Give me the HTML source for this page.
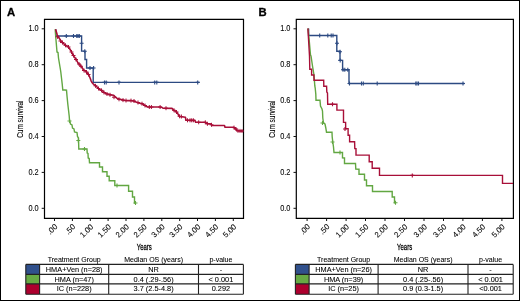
<!DOCTYPE html><html><head><meta charset="utf-8"><style>html,body{margin:0;padding:0;background:#fff;width:520px;height:301px;overflow:hidden}svg{display:block}text{filter:grayscale(1)}text{font-family:"Liberation Sans", sans-serif;fill:#000;stroke:#000;stroke-width:0.08px}</style></head><body>
<svg width="520" height="301" viewBox="0 0 520 301">
<rect x="0" y="0" width="520" height="301" fill="#fff"/>
<rect x="0.5" y="0.5" width="519" height="300" fill="none" stroke="#000" stroke-width="1"/>
<text x="6.9" y="16.0" font-size="11.3" font-weight="bold" style="stroke-width:0.3px">A</text>
<text x="258.5" y="16.2" font-size="11.3" font-weight="bold" style="stroke-width:0.3px">B</text>
<path d="M44.5,19.4H243.5V218.3H44.5Z" fill="none" stroke="#000" stroke-width="1.2"/>
<path d="M41.7,208.3H44.5" stroke="#111" stroke-width="1"/>
<text transform="translate(38.7,210.9) scale(0.9,1)" font-size="8.2" text-anchor="end">0.0</text>
<path d="M41.7,172.4H44.5" stroke="#111" stroke-width="1"/>
<text transform="translate(38.7,175.0) scale(0.9,1)" font-size="8.2" text-anchor="end">0.2</text>
<path d="M41.7,136.5H44.5" stroke="#111" stroke-width="1"/>
<text transform="translate(38.7,139.1) scale(0.9,1)" font-size="8.2" text-anchor="end">0.4</text>
<path d="M41.7,100.6H44.5" stroke="#111" stroke-width="1"/>
<text transform="translate(38.7,103.2) scale(0.9,1)" font-size="8.2" text-anchor="end">0.6</text>
<path d="M41.7,64.7H44.5" stroke="#111" stroke-width="1"/>
<text transform="translate(38.7,67.3) scale(0.9,1)" font-size="8.2" text-anchor="end">0.8</text>
<path d="M41.7,28.8H44.5" stroke="#111" stroke-width="1"/>
<text transform="translate(38.7,31.4) scale(0.9,1)" font-size="8.2" text-anchor="end">1.0</text>
<path d="M54.5,218.5V221" stroke="#111" stroke-width="1"/>
<text transform="translate(58.0,227.3) rotate(-45)" font-size="7.8" text-anchor="end">.00</text>
<path d="M72.4,218.5V221" stroke="#111" stroke-width="1"/>
<text transform="translate(75.9,227.3) rotate(-45)" font-size="7.8" text-anchor="end">.50</text>
<path d="M90.3,218.5V221" stroke="#111" stroke-width="1"/>
<text transform="translate(93.8,227.3) rotate(-45)" font-size="7.8" text-anchor="end">1.00</text>
<path d="M108.1,218.5V221" stroke="#111" stroke-width="1"/>
<text transform="translate(111.6,227.3) rotate(-45)" font-size="7.8" text-anchor="end">1.50</text>
<path d="M126.0,218.5V221" stroke="#111" stroke-width="1"/>
<text transform="translate(129.5,227.3) rotate(-45)" font-size="7.8" text-anchor="end">2.00</text>
<path d="M143.9,218.5V221" stroke="#111" stroke-width="1"/>
<text transform="translate(147.4,227.3) rotate(-45)" font-size="7.8" text-anchor="end">2.50</text>
<path d="M161.8,218.5V221" stroke="#111" stroke-width="1"/>
<text transform="translate(165.3,227.3) rotate(-45)" font-size="7.8" text-anchor="end">3.00</text>
<path d="M179.7,218.5V221" stroke="#111" stroke-width="1"/>
<text transform="translate(183.2,227.3) rotate(-45)" font-size="7.8" text-anchor="end">3.50</text>
<path d="M197.5,218.5V221" stroke="#111" stroke-width="1"/>
<text transform="translate(201.0,227.3) rotate(-45)" font-size="7.8" text-anchor="end">4.00</text>
<path d="M215.4,218.5V221" stroke="#111" stroke-width="1"/>
<text transform="translate(218.9,227.3) rotate(-45)" font-size="7.8" text-anchor="end">4.50</text>
<path d="M233.3,218.5V221" stroke="#111" stroke-width="1"/>
<text transform="translate(236.8,227.3) rotate(-45)" font-size="7.8" text-anchor="end">5.00</text>
<text transform="translate(144.3,249.9) scale(0.635,1)" font-size="9.4" text-anchor="middle" style="stroke-width:0.3px">Years</text>
<text transform="translate(23.2,119.2) rotate(-90) scale(0.66,1)" font-size="9.8" text-anchor="middle" style="stroke-width:0.12px">Cum survival</text>
<path d="M296.3,19.4H513.4V218.3H296.3Z" fill="none" stroke="#000" stroke-width="1.2"/>
<path d="M293.5,208.3H296.3" stroke="#111" stroke-width="1"/>
<text transform="translate(290.4,210.9) scale(0.9,1)" font-size="8.2" text-anchor="end">0.0</text>
<path d="M293.5,172.4H296.3" stroke="#111" stroke-width="1"/>
<text transform="translate(290.4,175.0) scale(0.9,1)" font-size="8.2" text-anchor="end">0.2</text>
<path d="M293.5,136.5H296.3" stroke="#111" stroke-width="1"/>
<text transform="translate(290.4,139.1) scale(0.9,1)" font-size="8.2" text-anchor="end">0.4</text>
<path d="M293.5,100.6H296.3" stroke="#111" stroke-width="1"/>
<text transform="translate(290.4,103.2) scale(0.9,1)" font-size="8.2" text-anchor="end">0.6</text>
<path d="M293.5,64.7H296.3" stroke="#111" stroke-width="1"/>
<text transform="translate(290.4,67.3) scale(0.9,1)" font-size="8.2" text-anchor="end">0.8</text>
<path d="M293.5,28.8H296.3" stroke="#111" stroke-width="1"/>
<text transform="translate(290.4,31.4) scale(0.9,1)" font-size="8.2" text-anchor="end">1.0</text>
<path d="M307.1,218.5V221" stroke="#111" stroke-width="1"/>
<text transform="translate(310.6,227.3) rotate(-45)" font-size="7.8" text-anchor="end">.00</text>
<path d="M326.6,218.5V221" stroke="#111" stroke-width="1"/>
<text transform="translate(330.1,227.3) rotate(-45)" font-size="7.8" text-anchor="end">.50</text>
<path d="M346.1,218.5V221" stroke="#111" stroke-width="1"/>
<text transform="translate(349.6,227.3) rotate(-45)" font-size="7.8" text-anchor="end">1.00</text>
<path d="M365.5,218.5V221" stroke="#111" stroke-width="1"/>
<text transform="translate(369.0,227.3) rotate(-45)" font-size="7.8" text-anchor="end">1.50</text>
<path d="M385.0,218.5V221" stroke="#111" stroke-width="1"/>
<text transform="translate(388.5,227.3) rotate(-45)" font-size="7.8" text-anchor="end">2.00</text>
<path d="M404.5,218.5V221" stroke="#111" stroke-width="1"/>
<text transform="translate(408.0,227.3) rotate(-45)" font-size="7.8" text-anchor="end">2.50</text>
<path d="M424.0,218.5V221" stroke="#111" stroke-width="1"/>
<text transform="translate(427.5,227.3) rotate(-45)" font-size="7.8" text-anchor="end">3.00</text>
<path d="M443.5,218.5V221" stroke="#111" stroke-width="1"/>
<text transform="translate(447.0,227.3) rotate(-45)" font-size="7.8" text-anchor="end">3.50</text>
<path d="M462.9,218.5V221" stroke="#111" stroke-width="1"/>
<text transform="translate(466.4,227.3) rotate(-45)" font-size="7.8" text-anchor="end">4.00</text>
<path d="M482.4,218.5V221" stroke="#111" stroke-width="1"/>
<text transform="translate(485.9,227.3) rotate(-45)" font-size="7.8" text-anchor="end">4.50</text>
<path d="M501.9,218.5V221" stroke="#111" stroke-width="1"/>
<text transform="translate(505.4,227.3) rotate(-45)" font-size="7.8" text-anchor="end">5.00</text>
<text transform="translate(404.6,249.9) scale(0.635,1)" font-size="9.4" text-anchor="middle" style="stroke-width:0.3px">Years</text>
<text transform="translate(275.4,119.2) rotate(-90) scale(0.66,1)" font-size="9.8" text-anchor="middle" style="stroke-width:0.12px">Cum survival</text>
<polyline points="55.7,29.2 55.7,36.0 81.6,36.0 81.6,51.1 85.0,51.1 85.0,59.5 86.6,59.5 86.6,68.0 93.2,68.0 93.2,82.4 199.5,82.4" fill="none" stroke="#2c4a82" stroke-width="1.4" stroke-linejoin="miter"/>
<path d="M64.3,36.0H68.3M66.3,34.0V38.0" stroke="#2c4a82" stroke-width="1.1" fill="none"/>
<path d="M71.5,36.0H75.5M73.5,34.0V38.0" stroke="#2c4a82" stroke-width="1.1" fill="none"/>
<path d="M74.8,36.0H78.8M76.8,34.0V38.0" stroke="#2c4a82" stroke-width="1.1" fill="none"/>
<path d="M76.0,36.0H80.0M78.0,34.0V38.0" stroke="#2c4a82" stroke-width="1.1" fill="none"/>
<path d="M77.3,36.0H81.3M79.3,34.0V38.0" stroke="#2c4a82" stroke-width="1.1" fill="none"/>
<path d="M79.6,43.2H83.6M81.6,41.2V45.2" stroke="#2c4a82" stroke-width="1.1" fill="none"/>
<path d="M82.8,51.3H86.8M84.8,49.3V53.3" stroke="#2c4a82" stroke-width="1.1" fill="none"/>
<path d="M88.0,68.0H92.0M90.0,66.0V70.0" stroke="#2c4a82" stroke-width="1.1" fill="none"/>
<path d="M91.6,68.0H95.6M93.6,66.0V70.0" stroke="#2c4a82" stroke-width="1.1" fill="none"/>
<path d="M102.5,82.4H106.5M104.5,80.4V84.4" stroke="#2c4a82" stroke-width="1.1" fill="none"/>
<path d="M104.2,82.4H108.2M106.2,80.4V84.4" stroke="#2c4a82" stroke-width="1.1" fill="none"/>
<path d="M117.0,82.4H121.0M119.0,80.4V84.4" stroke="#2c4a82" stroke-width="1.1" fill="none"/>
<path d="M152.7,82.4H156.7M154.7,80.4V84.4" stroke="#2c4a82" stroke-width="1.1" fill="none"/>
<path d="M154.8,82.4H158.8M156.8,80.4V84.4" stroke="#2c4a82" stroke-width="1.1" fill="none"/>
<path d="M195.7,82.4H199.7M197.7,80.4V84.4" stroke="#2c4a82" stroke-width="1.1" fill="none"/>
<polyline points="308.6,28.4 308.6,35.5 336.8,35.5 336.8,51.2 340.0,51.2 340.0,60.4 342.6,60.4 342.6,69.7 349.0,69.7 349.0,83.5 464.5,83.5" fill="none" stroke="#2c4a82" stroke-width="1.4" stroke-linejoin="miter"/>
<path d="M317.7,35.5H321.7M319.7,33.5V37.5" stroke="#2c4a82" stroke-width="1.1" fill="none"/>
<path d="M325.8,35.5H329.8M327.8,33.5V37.5" stroke="#2c4a82" stroke-width="1.1" fill="none"/>
<path d="M329.2,35.5H333.2M331.2,33.5V37.5" stroke="#2c4a82" stroke-width="1.1" fill="none"/>
<path d="M331.0,35.5H335.0M333.0,33.5V37.5" stroke="#2c4a82" stroke-width="1.1" fill="none"/>
<path d="M335.0,43.2H339.0M337.0,41.2V45.2" stroke="#2c4a82" stroke-width="1.1" fill="none"/>
<path d="M338.0,51.8H342.0M340.0,49.8V53.8" stroke="#2c4a82" stroke-width="1.1" fill="none"/>
<path d="M338.2,60.4H342.2M340.2,58.4V62.4" stroke="#2c4a82" stroke-width="1.1" fill="none"/>
<path d="M341.0,69.7H345.0M343.0,67.7V71.7" stroke="#2c4a82" stroke-width="1.1" fill="none"/>
<path d="M342.8,69.7H346.8M344.8,67.7V71.7" stroke="#2c4a82" stroke-width="1.1" fill="none"/>
<path d="M345.8,69.7H349.8M347.8,67.7V71.7" stroke="#2c4a82" stroke-width="1.1" fill="none"/>
<path d="M347.5,83.5H351.5M349.5,81.5V85.5" stroke="#2c4a82" stroke-width="1.1" fill="none"/>
<path d="M359.5,83.5H363.5M361.5,81.5V85.5" stroke="#2c4a82" stroke-width="1.1" fill="none"/>
<path d="M361.3,83.5H365.3M363.3,81.5V85.5" stroke="#2c4a82" stroke-width="1.1" fill="none"/>
<path d="M375.2,83.5H379.2M377.2,81.5V85.5" stroke="#2c4a82" stroke-width="1.1" fill="none"/>
<path d="M413.8,83.5H417.8M415.8,81.5V85.5" stroke="#2c4a82" stroke-width="1.1" fill="none"/>
<path d="M415.0,83.5H419.0M417.0,81.5V85.5" stroke="#2c4a82" stroke-width="1.1" fill="none"/>
<path d="M416.5,83.5H420.5M418.5,81.5V85.5" stroke="#2c4a82" stroke-width="1.1" fill="none"/>
<path d="M461.0,83.5H465.0M463.0,81.5V85.5" stroke="#2c4a82" stroke-width="1.1" fill="none"/>
<polyline points="55.2,29.2 55.5,34.0 56.0,40.0 56.5,46.0 57.0,52.0 58.0,52.5 58.5,58.0 59.5,64.0 60.5,70.0 60.8,72.0 61.5,78.0 62.2,84.0 62.8,90.0 65.0,90.0 66.5,90.2 67.0,96.0 67.8,104.0 68.5,110.0 69.2,116.0 69.5,120.0 70.5,124.0 72.0,125.0 72.5,128.0 74.0,129.0 74.5,132.0 77.0,132.5 77.5,136.5 78.5,138.0 78.8,149.0 87.0,149.0 87.2,153.0 88.0,153.5 88.2,158.0 89.2,158.5 89.5,162.8 99.5,162.8 99.5,167.0 102.5,167.0 102.5,171.8 107.0,171.8 107.0,176.2 109.2,176.2 109.2,180.8 114.8,180.8 114.8,185.5 128.6,185.5 128.6,191.2 132.5,191.2 132.5,197.0 134.5,197.0 134.5,203.0 136.0,203.0" fill="none" stroke="#62a742" stroke-width="1.4" stroke-linejoin="miter"/>
<path d="M67.5,121.0H71.5M69.5,119.0V123.0" stroke="#62a742" stroke-width="1.1" fill="none"/>
<path d="M76.3,140.5H80.3M78.3,138.5V142.5" stroke="#62a742" stroke-width="1.1" fill="none"/>
<path d="M82.5,149.0H86.5M84.5,147.0V151.0" stroke="#62a742" stroke-width="1.1" fill="none"/>
<path d="M115.0,185.5H119.0M117.0,183.5V187.5" stroke="#62a742" stroke-width="1.1" fill="none"/>
<path d="M133.5,203.0H137.5M135.5,201.0V205.0" stroke="#62a742" stroke-width="1.1" fill="none"/>
<polyline points="308.0,28.5 309.0,38.0 310.5,55.0 311.0,56.0 312.5,66.0 314.0,75.0 314.8,86.0 315.2,88.0 315.8,94.0 316.0,100.2 320.0,100.2 320.5,106.0 322.0,109.0 322.5,111.0 322.8,118.0 323.5,123.0 325.0,124.0 325.8,128.0 326.5,132.2 332.0,132.2 332.2,137.0 332.8,142.0 333.5,147.0 334.0,152.5 342.5,152.5 342.5,157.8 344.5,158.0 344.5,163.5 355.5,163.5 355.8,169.0 359.0,169.2 359.0,174.3 364.5,174.3 364.5,180.0 366.5,180.0 366.5,185.8 372.5,185.8 372.5,191.5 392.2,191.5 392.2,197.0 394.5,197.0 394.5,202.8 396.0,202.8" fill="none" stroke="#62a742" stroke-width="1.4" stroke-linejoin="miter"/>
<path d="M320.5,123.0H324.5M322.5,121.0V125.0" stroke="#62a742" stroke-width="1.1" fill="none"/>
<path d="M330.5,142.0H334.5M332.5,140.0V144.0" stroke="#62a742" stroke-width="1.1" fill="none"/>
<path d="M338.0,152.5H342.0M340.0,150.5V154.5" stroke="#62a742" stroke-width="1.1" fill="none"/>
<path d="M393.5,202.8H397.5M395.5,200.8V204.8" stroke="#62a742" stroke-width="1.1" fill="none"/>
<polyline points="55.6,29.2 57.2,34.8 58.6,37.2 60.3,39.9 61.5,42.0 63.0,42.8 64.5,44.5 66.0,45.8 68.0,46.5 69.5,48.5 71.0,51.0 72.5,54.0 74.0,56.5 75.5,58.5 77.0,61.0 78.0,63.0 80.0,65.0 82.0,67.5 83.5,70.0 85.5,71.0 87.5,73.0 89.0,75.5 90.1,78.0 91.1,80.8 92.2,82.8 93.5,84.2 94.9,85.3 96.3,86.3 97.7,87.7 99.1,89.1 100.8,90.1 102.5,90.8 104.0,92.6 106.1,93.4 108.2,94.3 110.9,94.9 113.7,95.3 115.4,97.0 117.2,98.4 119.2,99.1 122.0,99.8 124.8,100.5 127.5,100.6 130.3,100.6 133.1,100.8 135.9,101.9 138.6,102.9 140.0,103.2 142.1,103.7 144.2,104.9 146.2,106.3 147.6,107.0 160.1,107.0 161.5,107.2 162.9,108.1 172.0,108.4 173.0,109.5 174.4,110.6 176.1,111.6 177.5,113.0 178.5,115.1 179.6,116.5 181.3,116.8 185.5,117.3 185.9,120.3 194.9,120.4 195.6,122.3 205.3,122.3 206.3,123.1 207.4,123.8 210.5,123.9 211.5,124.8 212.2,125.5 224.5,125.5 225.0,127.2 233.5,127.2 234.5,128.0 236.0,129.0 237.0,130.8 243.0,131.0" fill="none" stroke="#a80f38" stroke-width="1.6" stroke-linejoin="round"/>
<path d="M55.5,36.8H59.5M57.5,34.8V38.8" stroke="#a80f38" stroke-width="1.0" fill="none"/>
<path d="M58.5,41.0H62.5M60.5,39.0V43.0" stroke="#a80f38" stroke-width="1.0" fill="none"/>
<path d="M60.5,42.6H64.5M62.5,40.6V44.6" stroke="#a80f38" stroke-width="1.0" fill="none"/>
<path d="M63.5,45.3H67.5M65.5,43.3V47.3" stroke="#a80f38" stroke-width="1.0" fill="none"/>
<path d="M66.5,47.0H70.5M68.5,45.0V49.0" stroke="#a80f38" stroke-width="1.0" fill="none"/>
<path d="M69.5,52.0H73.5M71.5,50.0V54.0" stroke="#a80f38" stroke-width="1.0" fill="none"/>
<path d="M71.5,55.5H75.5M73.5,53.5V57.5" stroke="#a80f38" stroke-width="1.0" fill="none"/>
<path d="M74.0,59.5H78.0M76.0,57.5V61.5" stroke="#a80f38" stroke-width="1.0" fill="none"/>
<path d="M77.0,64.0H81.0M79.0,62.0V66.0" stroke="#a80f38" stroke-width="1.0" fill="none"/>
<path d="M79.0,66.3H83.0M81.0,64.3V68.3" stroke="#a80f38" stroke-width="1.0" fill="none"/>
<path d="M82.0,70.5H86.0M84.0,68.5V72.5" stroke="#a80f38" stroke-width="1.0" fill="none"/>
<path d="M84.5,72.0H88.5M86.5,70.0V74.0" stroke="#a80f38" stroke-width="1.0" fill="none"/>
<path d="M86.5,74.5H90.5M88.5,72.5V76.5" stroke="#a80f38" stroke-width="1.0" fill="none"/>
<path d="M93.5,85.8H97.5M95.5,83.8V87.8" stroke="#a80f38" stroke-width="1.0" fill="none"/>
<path d="M96.5,88.5H100.5M98.5,86.5V90.5" stroke="#a80f38" stroke-width="1.0" fill="none"/>
<path d="M99.5,90.4H103.5M101.5,88.4V92.4" stroke="#a80f38" stroke-width="1.0" fill="none"/>
<path d="M102.0,92.5H106.0M104.0,90.5V94.5" stroke="#a80f38" stroke-width="1.0" fill="none"/>
<path d="M105.0,94.0H109.0M107.0,92.0V96.0" stroke="#a80f38" stroke-width="1.0" fill="none"/>
<path d="M108.0,94.8H112.0M110.0,92.8V96.8" stroke="#a80f38" stroke-width="1.0" fill="none"/>
<path d="M112.0,97.2H116.0M114.0,95.2V99.2" stroke="#a80f38" stroke-width="1.0" fill="none"/>
<path d="M117.0,99.3H121.0M119.0,97.3V101.3" stroke="#a80f38" stroke-width="1.0" fill="none"/>
<path d="M121.0,100.1H125.0M123.0,98.1V102.1" stroke="#a80f38" stroke-width="1.0" fill="none"/>
<path d="M124.0,100.5H128.0M126.0,98.5V102.5" stroke="#a80f38" stroke-width="1.0" fill="none"/>
<path d="M129.0,100.6H133.0M131.0,98.6V102.6" stroke="#a80f38" stroke-width="1.0" fill="none"/>
<path d="M132.0,101.0H136.0M134.0,99.0V103.0" stroke="#a80f38" stroke-width="1.0" fill="none"/>
<path d="M136.0,102.5H140.0M138.0,100.5V104.5" stroke="#a80f38" stroke-width="1.0" fill="none"/>
<path d="M140.0,103.7H144.0M142.0,101.7V105.7" stroke="#a80f38" stroke-width="1.0" fill="none"/>
<path d="M143.0,105.5H147.0M145.0,103.5V107.5" stroke="#a80f38" stroke-width="1.0" fill="none"/>
<path d="M147.3,107.0H151.3M149.3,105.0V109.0" stroke="#a80f38" stroke-width="1.0" fill="none"/>
<path d="M149.4,107.0H153.4M151.4,105.0V109.0" stroke="#a80f38" stroke-width="1.0" fill="none"/>
<path d="M158.1,107.0H162.1M160.1,105.0V109.0" stroke="#a80f38" stroke-width="1.0" fill="none"/>
<path d="M164.0,108.2H168.0M166.0,106.2V110.2" stroke="#a80f38" stroke-width="1.0" fill="none"/>
<path d="M172.0,110.3H176.0M174.0,108.3V112.3" stroke="#a80f38" stroke-width="1.0" fill="none"/>
<path d="M174.5,112.0H178.5M176.5,110.0V114.0" stroke="#a80f38" stroke-width="1.0" fill="none"/>
<path d="M177.6,116.3H181.6M179.6,114.3V118.3" stroke="#a80f38" stroke-width="1.0" fill="none"/>
<path d="M179.4,116.5H183.4M181.4,114.5V118.5" stroke="#a80f38" stroke-width="1.0" fill="none"/>
<path d="M185.5,120.3H189.5M187.5,118.3V122.3" stroke="#a80f38" stroke-width="1.0" fill="none"/>
<path d="M188.0,120.3H192.0M190.0,118.3V122.3" stroke="#a80f38" stroke-width="1.0" fill="none"/>
<path d="M189.7,120.3H193.7M191.7,118.3V122.3" stroke="#a80f38" stroke-width="1.0" fill="none"/>
<path d="M191.4,120.3H195.4M193.4,118.3V122.3" stroke="#a80f38" stroke-width="1.0" fill="none"/>
<path d="M196.7,122.3H200.7M198.7,120.3V124.3" stroke="#a80f38" stroke-width="1.0" fill="none"/>
<path d="M203.3,122.3H207.3M205.3,120.3V124.3" stroke="#a80f38" stroke-width="1.0" fill="none"/>
<path d="M205.4,123.8H209.4M207.4,121.8V125.8" stroke="#a80f38" stroke-width="1.0" fill="none"/>
<path d="M209.5,124.8H213.5M211.5,122.8V126.8" stroke="#a80f38" stroke-width="1.0" fill="none"/>
<path d="M232.0,127.6H236.0M234.0,125.6V129.6" stroke="#a80f38" stroke-width="1.0" fill="none"/>
<path d="M234.0,129.0H238.0M236.0,127.0V131.0" stroke="#a80f38" stroke-width="1.0" fill="none"/>
<path d="M236.0,130.8H240.0M238.0,128.8V132.8" stroke="#a80f38" stroke-width="1.0" fill="none"/>
<path d="M238.0,130.9H242.0M240.0,128.9V132.9" stroke="#a80f38" stroke-width="1.0" fill="none"/>
<path d="M240.0,131.0H244.0M242.0,129.0V133.0" stroke="#a80f38" stroke-width="1.0" fill="none"/>
<polyline points="307.9,28.4 309.5,56.0 309.8,69.2 311.6,69.2 311.6,75.0 313.9,75.0 314.0,80.2 323.7,80.2 323.8,86.2 326.6,86.2 326.8,92.0 327.5,93.0 327.7,104.2 336.9,104.2 336.9,110.1 343.5,110.1 343.5,122.4 345.6,122.4 345.7,128.6 348.1,128.6 348.1,135.3 349.6,135.3 349.6,141.8 354.6,141.8 354.8,148.6 356.0,148.6 356.0,155.1 369.2,155.1 369.2,161.8 372.2,161.8 372.2,168.2 379.5,168.2 379.5,175.4 502.5,175.4 502.5,183.4 513.0,183.4" fill="none" stroke="#a80f38" stroke-width="1.4" stroke-linejoin="miter"/>
<path d="M330.5,104.2H334.5M332.5,102.2V106.2" stroke="#a80f38" stroke-width="1.1" fill="none"/>
<path d="M343.0,129.0H347.0M345.0,127.0V131.0" stroke="#a80f38" stroke-width="1.1" fill="none"/>
<path d="M410.3,175.4H414.3M412.3,173.4V177.4" stroke="#a80f38" stroke-width="1.1" fill="none"/>
<text transform="translate(74.2,261.8) scale(0.935,1)" font-size="7.5" text-anchor="middle">Treatment Group</text>
<text transform="translate(153.6,261.8) scale(0.935,1)" font-size="7.5" text-anchor="middle">Median OS (years)</text>
<text transform="translate(220.9,261.8) scale(0.935,1)" font-size="7.5" text-anchor="middle">p-value</text>
<rect x="25.8" y="264.4" width="13.8" height="10.0" fill="#30508c"/>
<text x="74.2" y="271.7" font-size="7.35" text-anchor="middle">HMA+Ven (n=28)</text>
<text x="153.6" y="271.7" font-size="7.35" text-anchor="middle">NR</text>
<text x="220.9" y="271.7" font-size="7.35" text-anchor="middle">-</text>
<rect x="25.8" y="274.4" width="13.8" height="9.5" fill="#67aa44"/>
<text x="74.2" y="281.7" font-size="7.35" text-anchor="middle">HMA (n=47)</text>
<text x="153.6" y="281.7" font-size="7.35" text-anchor="middle">0.4 (.29-.56)</text>
<text x="220.9" y="281.7" font-size="7.35" text-anchor="middle">&lt; 0.001</text>
<rect x="25.8" y="283.9" width="13.8" height="10.3" fill="#ad002e"/>
<text x="74.2" y="291.2" font-size="7.35" text-anchor="middle">IC (n=228)</text>
<text x="153.6" y="291.2" font-size="7.35" text-anchor="middle">3.7 (2.5-4.8)</text>
<text x="220.9" y="291.2" font-size="7.35" text-anchor="middle">0.292</text>
<path d="M25.8,264.4H243.4M25.8,274.4H243.4M25.8,283.9H243.4M25.8,294.2H243.4M25.8,264.4V294.2M39.6,264.4V294.2M108.7,264.4V294.2M198.5,264.4V294.2M243.4,264.4V294.2" fill="none" stroke="#222" stroke-width="1.1"/>
<text transform="translate(343.6,261.8) scale(0.935,1)" font-size="7.5" text-anchor="middle">Treatment Group</text>
<text transform="translate(423.1,261.8) scale(0.935,1)" font-size="7.5" text-anchor="middle">Median OS (years)</text>
<text transform="translate(490.6,261.8) scale(0.935,1)" font-size="7.5" text-anchor="middle">p-value</text>
<rect x="295.4" y="264.4" width="13.7" height="10.0" fill="#30508c"/>
<text x="343.6" y="271.7" font-size="7.35" text-anchor="middle">HMA+Ven (n=26)</text>
<text x="423.1" y="271.7" font-size="7.35" text-anchor="middle">NR</text>
<text x="490.6" y="271.7" font-size="7.35" text-anchor="middle">-</text>
<rect x="295.4" y="274.4" width="13.7" height="9.5" fill="#67aa44"/>
<text x="343.6" y="281.7" font-size="7.35" text-anchor="middle">HMA (n=39)</text>
<text x="423.1" y="281.7" font-size="7.35" text-anchor="middle">0.4 (.25-.56)</text>
<text x="490.6" y="281.7" font-size="7.35" text-anchor="middle">&lt; 0.001</text>
<rect x="295.4" y="283.9" width="13.7" height="10.3" fill="#ad002e"/>
<text x="343.6" y="291.2" font-size="7.35" text-anchor="middle">IC (n=25)</text>
<text x="423.1" y="291.2" font-size="7.35" text-anchor="middle">0.9 (0.3-1.5)</text>
<text x="490.6" y="291.2" font-size="7.35" text-anchor="middle">&lt;0.001</text>
<path d="M295.4,264.4H513.2M295.4,274.4H513.2M295.4,283.9H513.2M295.4,294.2H513.2M295.4,264.4V294.2M309.1,264.4V294.2M378.1,264.4V294.2M468.0,264.4V294.2M513.2,264.4V294.2" fill="none" stroke="#222" stroke-width="1.1"/>
</svg></body></html>
